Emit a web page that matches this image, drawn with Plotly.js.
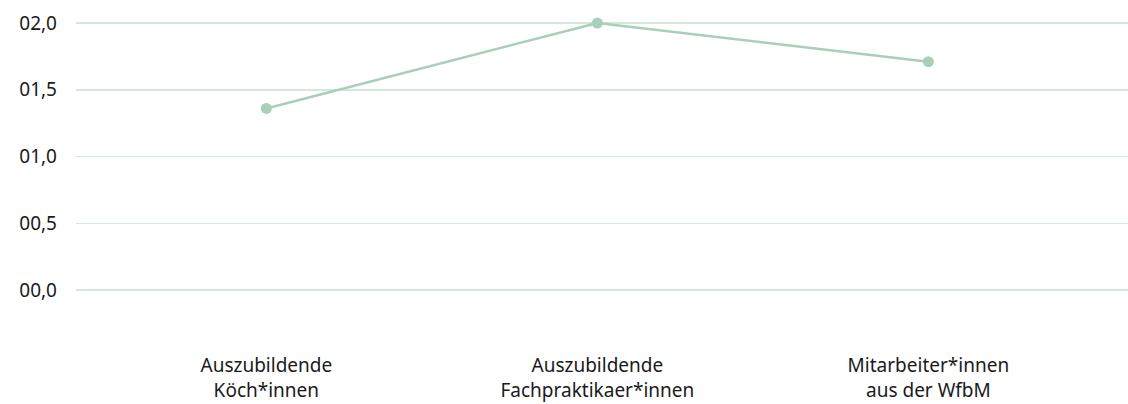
<!DOCTYPE html>
<html>
<head>
<meta charset="utf-8">
<script src="https://cdn.plot.ly/plotly-3.0.1.min.js"></script>
<style>html,body{margin:0;padding:0;background:#fff;}#chart{width:1128px;height:404px;}</style>
</head>
<body>
<div id="chart"></div>
<script>
const categories = ["Auszubildende<br>Köch*innen", "Auszubildende<br>Fachpraktikaer*innen", "Mitarbeiter*innen<br>aus der WfbM"];
const values = [1.36, 2.0, 1.71];
const yTicks = [0, 0.5, 1, 1.5, 2];

const trace = {
  x: categories,
  y: values,
  type: "scatter",
  mode: "lines+markers",
  line: {color: "#a9cfbb", width: 2.5},
  marker: {color: "#a9cfbb", size: 11},
  cliponaxis: false,
  hoverinfo: "skip"
};

const layout = {
  width: 1128,
  height: 404,
  margin: {l: 76, r: 0, t: 13, b: 52},
  paper_bgcolor: "#fff",
  plot_bgcolor: "#fff",
  separators: ",.",
  showlegend: false,
  font: {family: "Source Sans Pro, Noto Sans, sans-serif", size: 19, color: "#1a1a1a"},
  xaxis: {
    type: "category",
    range: [-0.575, 2.603],
    showgrid: false,
    zeroline: false,
    showline: false,
    ticks: "",
    tickfont: {size: 19},
    fixedrange: true
  },
  yaxis: {
    range: [-0.464, 2.075],
    tickvals: yTicks,
    tickformat: "04.1f",
    showgrid: true,
    gridcolor: "#d3e7db",
    gridwidth: 1.5,
    zeroline: false,
    showline: false,
    ticks: "",
    ticklabelstandoff: 18,
    tickfont: {size: 19},
    fixedrange: true
  }
};

Plotly.newPlot("chart", [trace], layout, {displayModeBar: false, staticPlot: true});
</script>
</body>
</html>
